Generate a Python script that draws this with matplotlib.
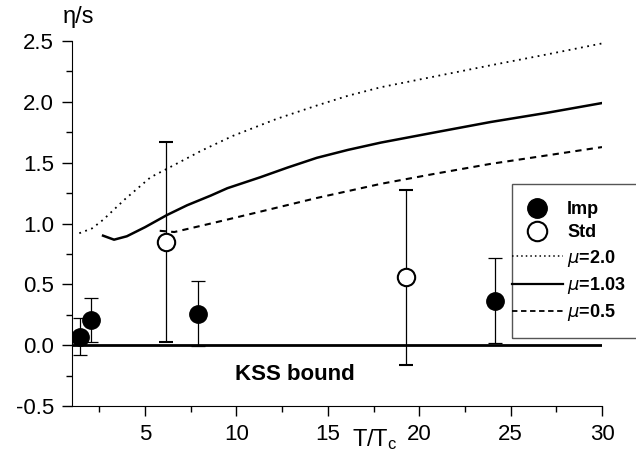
import matplotlib
matplotlib.use("Agg")
import matplotlib.pyplot as plt
from matplotlib.lines import Line2D
from matplotlib.patches import Rectangle
from matplotlib.ticker import MultipleLocator, FormatStrFormatter

plt.rcParams['font.family'] = ['Liberation Sans', 'DejaVu Sans']
plt.rcParams['axes.unicode_minus'] = False
plt.rcParams['mathtext.default'] = 'regular'

# data points with error bars
imp_x = [1.44, 2.02, 7.88, 24.15]
imp_y = [0.07, 0.21, 0.26, 0.365]
imp_err = [0.15, 0.18, 0.27, 0.35]

std_x = [6.13, 19.28]
std_y = [0.846, 0.557]
std_err = [0.82, 0.72]

# model curves
mu20_x = [1.4, 2.1, 2.7, 3.9, 5.3, 6.2, 8.1, 9.8, 12.2, 14.4, 16.1, 17.9, 20.9, 23.9, 27.0, 30.0]
mu20_y = [0.92, 0.96, 1.03, 1.20, 1.38, 1.45, 1.60, 1.72, 1.86, 1.97, 2.05, 2.12, 2.21, 2.30, 2.39, 2.48]

mu103_x = [2.7, 3.3, 4.0, 5.0, 6.2, 7.3, 8.6, 9.5, 11.3, 12.8, 14.4, 16.1, 17.9, 20.9, 23.9, 27.0, 30.0]
mu103_y = [0.90, 0.867, 0.895, 0.97, 1.07, 1.15, 1.23, 1.29, 1.38, 1.46, 1.54, 1.605, 1.665, 1.75, 1.834, 1.91, 1.99]

mu05_x = [5.8, 6.6, 8.6, 11.1, 14.4, 17.9, 20.9, 23.9, 27.0, 30.0]
mu05_y = [0.94, 0.93, 1.00, 1.09, 1.21, 1.326, 1.41, 1.49, 1.56, 1.628]

kss_x = [1.0, 30.0]
kss_y = [0.0, 0.0]

fig = plt.figure(figsize=(6.36, 4.68), dpi=100)
ax = fig.add_axes([72 / 636, 62 / 468, 530 / 636, 365 / 468])

ax.plot(mu20_x, mu20_y, color='k', lw=1.3, linestyle=(0, (1, 2.5)))
ax.plot(mu103_x, mu103_y, color='k', lw=1.8, linestyle='-')
ax.plot(mu05_x, mu05_y, color='k', lw=1.5, linestyle=(0, (3, 2.5)))
ax.plot(kss_x, kss_y, color='k', lw=2.0)

ax.errorbar(imp_x, imp_y, yerr=imp_err, fmt='o', color='k', ms=12.5,
            ecolor='k', elinewidth=0.9, capsize=5, capthick=0.9, zorder=3)
ax.errorbar(std_x, std_y, yerr=std_err, fmt='o', mfc='white', mec='k', mew=1.5,
            ms=12.5, ecolor='k', elinewidth=0.9, capsize=5, capthick=0.9, zorder=3)

ax.set_xlim(1, 30)
ax.set_ylim(-0.5, 2.5)
ax.xaxis.set_major_locator(MultipleLocator(5))
ax.xaxis.set_minor_locator(MultipleLocator(2.5))
ax.yaxis.set_major_locator(MultipleLocator(0.5))
ax.yaxis.set_minor_locator(MultipleLocator(0.25))
ax.yaxis.set_major_formatter(FormatStrFormatter('%.1f'))
ax.tick_params(which='major', length=7, width=1, labelsize=16, pad=6)
ax.tick_params(which='minor', length=4.5, width=1)
ax.spines['top'].set_visible(False)
ax.spines['right'].set_visible(False)

fig.text(63 / 636, 1 - 17 / 468, 'η/s', fontsize=17, ha='left', va='center')
fig.text(352 / 636, 1 - 440 / 468, 'T/T$_{c}$', fontsize=17, ha='left', va='center')
ax.text(13.2, -0.24, 'KSS bound', fontsize=16, fontweight='bold', ha='center', va='center')

handles = [
    Line2D([], [], marker='o', color='k', ls='none', ms=14),
    Line2D([], [], marker='o', mfc='white', mec='k', mew=1.5, ls='none', ms=14),
    Line2D([], [], color='k', lw=1.1, linestyle=(0, (1, 2))),
    Line2D([], [], color='k', lw=1.6),
    Line2D([], [], color='k', lw=1.3, linestyle=(0, (3, 2))),
]
labels = ['Imp', 'Std', '$\\mathit{\\mu}$=2.0', '$\\mathit{\\mu}$=1.03', '$\\mathit{\\mu}$=0.5']
fig.legend(handles, labels, loc='upper left', bbox_to_anchor=(512 / 636, 1 - 201 / 468),
           frameon=False, borderpad=0, borderaxespad=0, handlelength=2.8,
           handletextpad=0.25, labelspacing=0.35, prop={'weight': 'bold', 'size': 13})
fig.patches.append(Rectangle((512 / 636, 1 - 338 / 468), 0.3, 154 / 468,
                             transform=fig.transFigure, fill=False, edgecolor='#555555', lw=1))

fig.savefig('out.png', dpi=100)
